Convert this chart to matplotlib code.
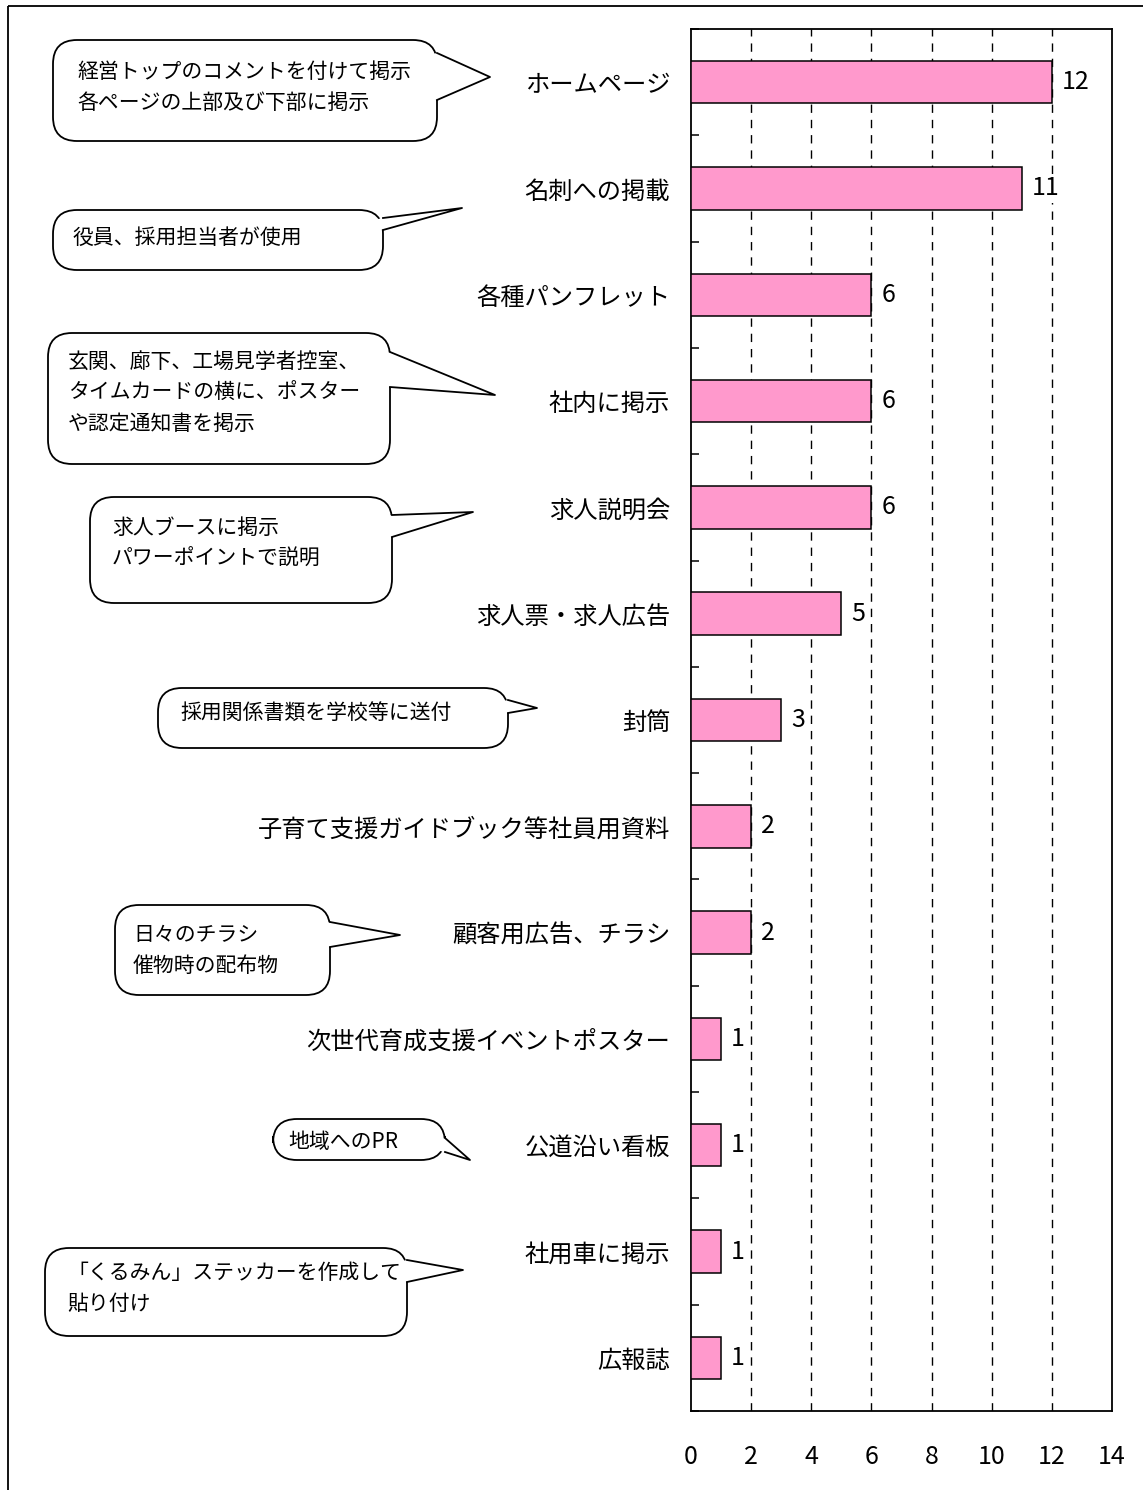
import numpy as np
import matplotlib
matplotlib.use('Agg')
import matplotlib.pyplot as plt
from matplotlib.patches import FancyBboxPatch, Polygon, Rectangle

plt.rcParams['font.family'] = ['Noto Sans CJK JP', 'DejaVu Sans']

categories = ['ホームページ', '名刺への掲載', '各種パンフレット', '社内に掲示', '求人説明会',
              '求人票・求人広告', '封筒', '子育て支援ガイドブック等社員用資料', '顧客用広告、チラシ',
              '次世代育成支援イベントポスター', '公道沿い看板', '社用車に掲示', '広報誌']
counts = [12, 11, 6, 6, 6, 5, 3, 2, 2, 1, 1, 1, 1]
xticks = [0, 2, 4, 6, 8, 10, 12, 14]

notes = ['経営トップのコメントを付けて掲示\n各ページの上部及び下部に掲示',
         '役員、採用担当者が使用',
         '玄関、廊下、工場見学者控室、\nタイムカードの横に、ポスター\nや認定通知書を掲示',
         '求人ブースに掲示\nパワーポイントで説明',
         '採用関係書類を学校等に送付',
         '日々のチラシ\n催物時の配布物',
         '地域へのPR',
         '「くるみん」ステッカーを作成して\n貼り付け']

# callout layout in pixels: box (x0, y0, x1, y1), pointer base y's, tip, text start
boxes = [(53, 40, 437, 141), (53, 210, 383, 270), (48, 333, 390, 464), (90, 497, 392, 603),
         (158, 688, 508, 748), (115, 905, 330, 995), (273, 1119, 445, 1160), (45, 1248, 407, 1336)]
bases = [(53, 100), (218, 230), (352, 387), (515, 537), (700, 713), (922, 947), (1138, 1152), (1260, 1282)]
tips = [(490, 77), (462, 208), (495, 395), (473, 512), (537, 708), (400, 935), (470, 1160), (463, 1270)]
text_pos = [(77, 72), (73, 238), (68, 362), (112, 528), (180, 713), (133, 935), (288, 1142), (67, 1273)]
line_step = 31

W, H = 1143, 1490
fig = plt.figure(figsize=(W / 100, H / 100), dpi=100)

ax = fig.add_axes([691 / W, 1 - 1411 / H, 421 / W, 1382 / H])
y = np.arange(len(categories))
ax.barh(y, counts, height=0.4, color='#FF99CC', edgecolor='black', linewidth=1.1, zorder=3)
for yi, v in zip(y, counts):
    ax.text(v + 0.33, yi, str(v), va='center', ha='left', fontsize=18, zorder=4,
            bbox=dict(facecolor='white', edgecolor='none', pad=1))

ax.set_xlim(0, 14)
ax.set_ylim(len(categories) - 0.5, -0.5)
ax.set_xticks(xticks)
ax.set_xticklabels([str(t) for t in xticks], fontsize=18)
ax.set_yticks(y)
ax.set_yticklabels(categories, fontsize=17.5)
ax.set_yticks(np.arange(len(categories) + 1) - 0.5, minor=True)
ax.tick_params(axis='y', which='major', length=0, pad=15)
ax.tick_params(axis='y', which='minor', direction='in', length=6, width=1.1)
ax.tick_params(axis='x', length=0, pad=24)
for t in xticks[1:-1]:
    ax.axvline(t, color='black', linewidth=1.0, dashes=(6, 5), zorder=1)
for s in ax.spines.values():
    s.set_linewidth(1.3)

# overlay in pixel coordinates for the callouts and the outer frame
ov = fig.add_axes([0, 0, 1, 1], zorder=-1)
ov.set_xlim(0, W)
ov.set_ylim(H, 0)
ov.axis('off')
ov.add_patch(Rectangle((8, 6), W + 20, H + 20, fill=False, edgecolor='black', linewidth=1.3))

for txt, (x0, y0, x1, y1), (b1, b2), (tx, ty), (px, py) in zip(notes, boxes, bases, tips, text_pos):
    ov.add_patch(FancyBboxPatch((x0, y0), x1 - x0, y1 - y0,
                                boxstyle='round,pad=0,rounding_size=24',
                                facecolor='white', edgecolor='black', linewidth=1.3))
    ov.add_patch(Polygon([(x1 - 5, b1 + 1), (x1, b1), (tx, ty), (x1, b2), (x1 - 5, b2 - 1)],
                         closed=True, facecolor='white', edgecolor='none', zorder=3))
    ov.plot([x1, tx, x1], [b1, ty, b2], color='black', linewidth=1.3, zorder=4)
    for k, line in enumerate(txt.split('\n')):
        ov.text(px, py + k * line_step, line, ha='left', va='center', fontsize=15, zorder=5)

fig.savefig('out.png', dpi=100)
